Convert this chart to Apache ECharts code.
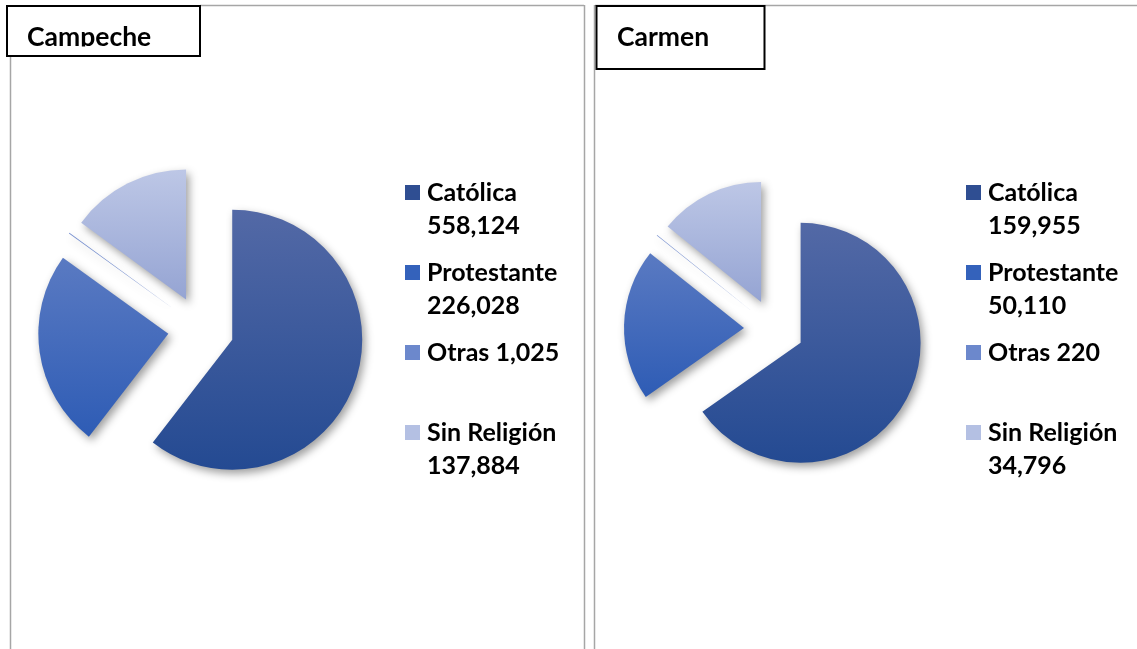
<!DOCTYPE html>
<html>
<head>
<meta charset="utf-8">
<script src="https://cdn.jsdelivr.net/npm/echarts@6/dist/echarts.min.js"></script>
<style>
html,body{margin:0;padding:0;background:#fff;}
#chart{width:1137px;height:649px;}
</style>
</head>
<body>
<div id="chart"></div>
<script>
const categories = ['Católica', 'Protestante', 'Otras', 'Sin Religión'];
const campecheValues = [558124, 226028, 1025, 137884];
const carmenValues = [159955, 50110, 220, 34796];
const panelTitles = ['Campeche', 'Carmen'];

const sliceGradients = [
  ['#5369a6', '#244a92'],
  ['#5a7ac2', '#2e5cb5'],
  ['#7891d0', '#5674c2'],
  ['#bdc7e6', '#95a4d3']
];
const markerColors = ['#2f4e92', '#3462bb', '#6c88cc', '#b4c0e3'];

const FONT = 'Lato';
const LEG_SIZE = 25;
const chart = echarts.init(document.getElementById('chart'), null, {renderer: 'canvas'});

function fmt(v) { return v.toLocaleString('en-US'); }

function pieData(values) {
  return categories.map((name, i) => ({
    name: name,
    value: values[i],
    selected: true,
    itemStyle: {
      color: {type: 'linear', x: 0, y: 0, x2: 0, y2: 1,
        colorStops: [{offset: 0, color: sliceGradients[i][0]}, {offset: 1, color: sliceGradients[i][1]}]}
    }
  }));
}

function pieSeries(values, center, radius, offset) {
  return {
    type: 'pie',
    center: center,
    radius: radius,
    startAngle: 90,
    clockwise: true,
    selectedMode: 'multiple',
    selectedOffset: offset,
    avoidLabelOverlap: false,
    label: {show: false},
    labelLine: {show: false},
    emphasis: {disabled: true, scale: false},
    itemStyle: {
      borderWidth: 0,
      shadowBlur: 8,
      shadowOffsetX: 3,
      shadowOffsetY: 4,
      shadowColor: 'rgba(0,0,0,0.38)'
    },
    select: {itemStyle: {borderWidth: 0}},
    data: pieData(values)
  };
}

function legendFor(values, left, top) {
  const rich = {
    t: {fontFamily: FONT, fontWeight: 'bold', fontSize: LEG_SIZE, color: '#000', lineHeight: 33, padding: [0, 0, 0, 7], verticalAlign: 'middle'},
    v: {fontFamily: FONT, fontWeight: 'bold', fontSize: LEG_SIZE, color: '#000', lineHeight: 33, padding: [0, 0, 0, 22], verticalAlign: 'middle'}
  };
  markerColors.forEach((c, i) => {
    rich['m' + i] = {width: 15, height: 15, backgroundColor: c, verticalAlign: 'middle', lineHeight: 33};
  });
  return {
    orient: 'vertical',
    left: left,
    top: top,
    itemGap: 22,
    itemWidth: 0,
    itemHeight: 0,
    icon: 'rect',
    selectedMode: false,
    padding: 0,
    data: categories,
    textStyle: {rich: rich},
    formatter: function (name) {
      const i = categories.indexOf(name);
      const val = fmt(values[i]);
      const one = (name + ' ' + val).length <= 12;
      if (one) return '{m' + i + '|}{t|' + name + ' ' + val + '}\n{v| }';
      return '{m' + i + '|}{t|' + name + '}\n{v|' + val + '}';
    }
  };
}

const gray = '#a6a6a6';
const option = {
  animation: false,
  backgroundColor: '#fff',
  legend: [
    legendFor(campecheValues, 400, 180),
    legendFor(carmenValues, 961, 180)
  ],
  series: [
    pieSeries(campecheValues, [201, 329], 130, 33),
    pieSeries(carmenValues, [774, 329], 120, 30)
  ],
  graphic: [
    {type: 'line', z: 1, shape: {x1: 200, y1: 5.5, x2: 584, y2: 5.5}, style: {stroke: gray, lineWidth: 1.5}},
    {type: 'line', z: 1, shape: {x1: 10.5, y1: 57, x2: 10.5, y2: 649}, style: {stroke: gray, lineWidth: 1.5}},
    {type: 'line', z: 1, shape: {x1: 584.5, y1: 5, x2: 584.5, y2: 649}, style: {stroke: gray, lineWidth: 1.5}},
    {type: 'line', z: 1, shape: {x1: 594.5, y1: 5, x2: 594.5, y2: 649}, style: {stroke: gray, lineWidth: 1.5}},
    {type: 'line', z: 1, shape: {x1: 595, y1: 5.5, x2: 1137, y2: 5.5}, style: {stroke: gray, lineWidth: 1.5}},
    {type: 'rect', z: 20, shape: {x: 7, y: 6, width: 193, height: 50}, style: {fill: '#fff', stroke: '#000', lineWidth: 2}},
    {type: 'text', z: 21, style: {x: 27, y: 37, text: panelTitles[0], font: 'bold 26.5px ' + FONT, fill: '#000', verticalAlign: 'middle'}},
    {type: 'rect', z: 22, shape: {x: 9, y: 46.5, width: 189, height: 8.5}, style: {fill: '#fff'}},
    {type: 'rect', z: 20, shape: {x: 596.5, y: 6, width: 168, height: 63}, style: {fill: '#fff', stroke: '#000', lineWidth: 2}},
    {type: 'text', z: 21, style: {x: 617, y: 37, text: panelTitles[1], font: 'bold 26.5px ' + FONT, fill: '#000', verticalAlign: 'middle'}}
  ]
};
chart.setOption(option);
</script>
</body>
</html>
